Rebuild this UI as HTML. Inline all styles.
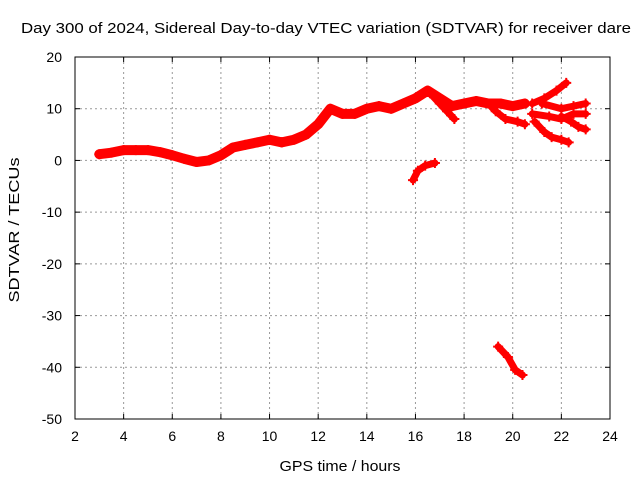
<!DOCTYPE html>
<html><head><meta charset="utf-8"><style>
body{margin:0;background:#fff}
svg{display:block;font-family:"Liberation Sans",sans-serif}
</style></head><body>
<svg id="chart" width="640" height="480">
<text x="326" y="33" font-size="15" text-anchor="middle" textLength="610" lengthAdjust="spacingAndGlyphs">Day 300 of 2024, Sidereal Day-to-day VTEC variation (SDTVAR) for receiver dare</text>
<text x="340" y="471" font-size="15" text-anchor="middle" textLength="121" lengthAdjust="spacingAndGlyphs">GPS time / hours</text>
<text x="19" y="230" font-size="15" text-anchor="middle" textLength="145" lengthAdjust="spacingAndGlyphs" transform="rotate(-90 19 230)">SDTVAR / TECUs</text>
<g id="grid"></g><g id="data"></g>
<rect x="75" y="57" width="535" height="362" fill="none" stroke="#000"/>
</svg>
<script>
const xTicks=[2,4,6,8,10,12,14,16,18,20,22,24];
const yTicks=[20,10,0,-10,-20,-30,-40,-50];
const mainHours=[3.0,3.5,4,4.5,5,5.5,6,6.5,7,7.5,8,8.5,9,9.5,10,10.5,11,11.5,12,12.5,13,13.5,14,14.5,15,15.5,16,16.5,17,17.5,18,18.5,19,19.5,20,20.5];
const mainValues=[1.2,1.5,2,2,2,1.6,1,0.3,-0.3,0,1,2.5,3,3.5,4,3.5,4,5,7,10,9,9,10,10.5,10,11,12,13.5,12,10.5,11,11.5,11,11,10.5,11];
const branchA_h=[16.6,17.0,17.3,17.6];const branchA_v=[13,11,9.5,8];
const branchB_h=[19.0,19.3,19.7,20.2,20.5];const branchB_v=[11,9.5,8,7.5,7];
const branchC_h=[20.8,21.3,21.8,22.2];const branchC_v=[11,12,13.5,15];
const branchD_h=[20.8,21.5,22,22.5,23];const branchD_v=[9,8.5,8,9,9];
const branchE_h=[20.9,21.3,21.6,22,22.3];const branchE_v=[7.5,5.5,4.5,4,3.5];
const branchF_h=[21.2,22,22.5,23];const branchF_v=[11,10,10.5,11];
const branchG_h=[22.0,22.4,22.7,23];const branchG_v=[8.5,7.5,6.5,6];
const arcHours=[15.9,16.1,16.4,16.8];const arcValues=[-3.8,-2,-1,-0.5];
const lowHours=[19.4,19.8,20.1,20.4];const lowValues=[-36,-38,-40.5,-41.5];
const X=h=>75+(h-2)*535/22, Y=v=>57+(20-v)*362/70;
const NS="http://www.w3.org/2000/svg", svg=document.getElementById('chart');
const grid=document.getElementById('grid'), data=document.getElementById('data');
function mk(t,a,p){const e=document.createElementNS(NS,t);for(const k in a)e.setAttribute(k,a[k]);p.appendChild(e);return e;}
xTicks.forEach(t=>{const x=X(t);
 if(t>2&&t<24){const l=mk('line',{x1:x,y1:57,x2:x,y2:419,stroke:'#999','stroke-dasharray':'2,3'},grid);
 
 }
 mk('line',{x1:x,y1:419,x2:x,y2:414,stroke:'#000'},grid);mk('line',{x1:x,y1:57,x2:x,y2:62,stroke:'#000'},grid);
 const tx=mk('text',{x:x,y:441,'font-size':14,'text-anchor':'middle'},svg);tx.textContent=t;
 
 });
yTicks.forEach(t=>{const y=Y(t);
 if(t<20&&t>-50){const l=mk('line',{x1:75,y1:y,x2:610,y2:y,stroke:'#999','stroke-dasharray':'2,3'},grid);
 
 }
 mk('line',{x1:75,y1:y,x2:80,y2:y,stroke:'#000'},grid);mk('line',{x1:610,y1:y,x2:605,y2:y,stroke:'#000'},grid);
 const tx=mk('text',{x:62,y:y+5,'font-size':14,'text-anchor':'end'},svg);tx.textContent=t;
 
 });
const series=[[mainHours,mainValues,10],[branchA_h,branchA_v,7],[branchB_h,branchB_v,7],[branchC_h,branchC_v,7],[branchD_h,branchD_v,7],[branchE_h,branchE_v,7],[branchF_h,branchF_v,7],[branchG_h,branchG_v,7],[arcHours,arcValues,7],[lowHours,lowValues,7]];
series.forEach(([hs,vs,w])=>{
 const p=mk('polyline',{points:hs.map((h,i)=>X(h)+','+Y(vs[i])).join(' '),fill:'none',stroke:'#f00','stroke-width':w,'stroke-linejoin':'round','stroke-linecap':'round'},data);
 
 
 hs.forEach((h,i)=>{const x=X(h),y=Y(vs[i]);
  mk('path',{d:`M${x-5},${y}H${x+5}M${x},${y-5}V${y+5}`,stroke:'#f00','stroke-width':2},data);});
});
</script>
</body></html>
